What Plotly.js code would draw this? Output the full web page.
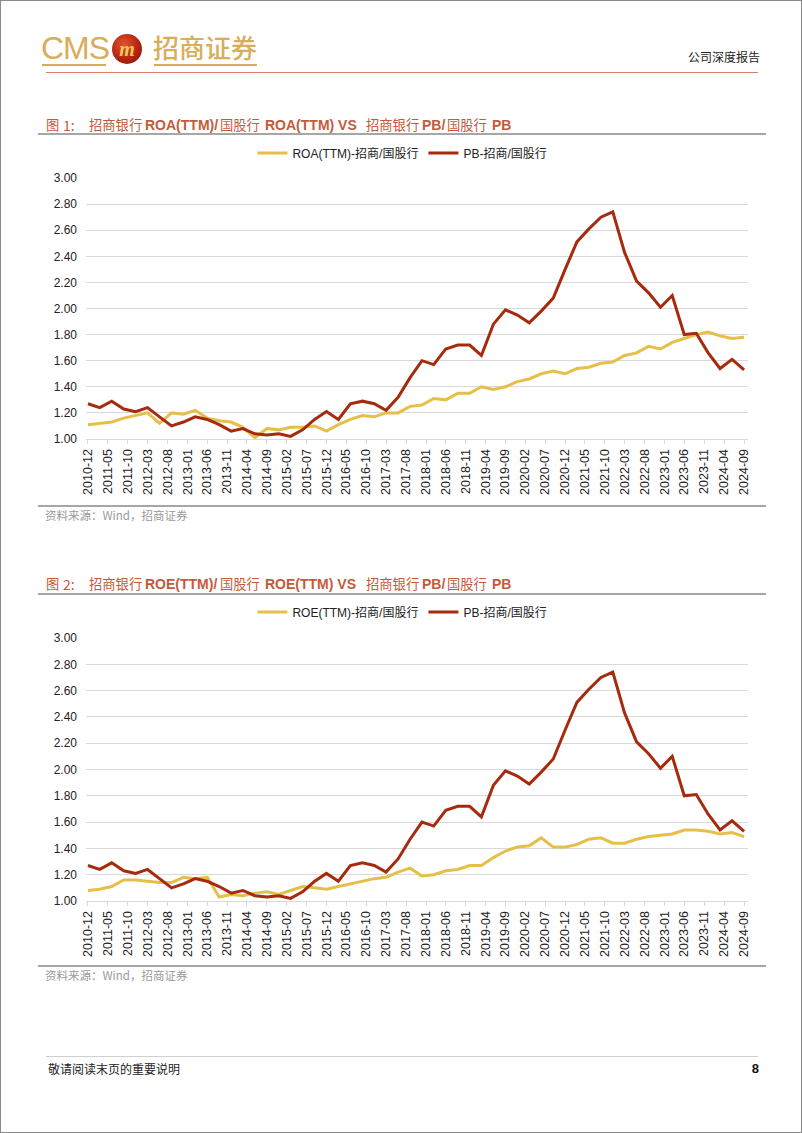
<!DOCTYPE html>
<html>
<head>
<meta charset="utf-8">
<script src="https://cdn.plot.ly/plotly-3.0.1.min.js"></script>
<style>
  html, body { margin:0; padding:0; background:#fff; }
  #page { position:relative; width:802px; height:1133px; border:1px solid #8a8a8a; box-sizing:border-box; overflow:hidden; background:#fff;
          font-family:"Liberation Sans", Arial, "Noto Sans CJK SC", sans-serif; }
  .abs { position:absolute; white-space:nowrap; }
  .cjk { font-family:"Noto Sans CJK SC", sans-serif; font-weight:400; }
  .lat { font-family:"Liberation Sans", Arial, sans-serif; font-weight:700; }
  .t { position:absolute; white-space:nowrap; color:#C55A3B; font-size:14px; line-height:16px; }
  .tc { font-size:13.3px; }
  .rule { position:absolute; }
  .src { color:#9a9a9a; font-size:11.5px; line-height:14px; }
  .chart { position:absolute; left:0; width:802px; }
</style>
</head>
<body>
<div id="page">
  <!-- header -->
  <div class="abs" style="left:40px;top:31px;font-family:'Liberation Sans Narrow','Liberation Sans',Arial,sans-serif;font-size:32px;line-height:32px;color:#D8AE5A;letter-spacing:-1px;">CMS</div>
  <div class="rule" style="left:41px;top:63px;width:64px;height:2px;background:#D8AE5A;"></div>
  <div class="abs" style="left:111px;top:33px;width:30px;height:30px;border-radius:50%;background:radial-gradient(circle at 40% 35%, #E0552F 0%, #B0200E 60%, #7A1208 100%);"></div>
  <div class="abs" style="left:114px;top:36px;width:24px;text-align:center;font-family:'Liberation Serif',serif;font-style:italic;font-weight:700;font-size:20px;line-height:24px;color:#F2C65A;">m</div>
  <div class="abs cjk" style="left:152px;top:31px;font-size:26px;line-height:30px;color:#D8AE5A;font-weight:500;">招商证券</div>
  <div class="rule" style="left:153px;top:63px;width:103px;height:2px;background:#D8AE5A;"></div>
  <div class="abs cjk" style="right:41px;top:47px;font-size:12px;line-height:18px;color:#222;">公司深度报告</div>
  <div class="rule" style="left:45px;top:71px;width:712px;height:1px;background:#D6806C;"></div>

  <!-- figure 1 title -->
  <span class="t cjk tc" style="left:45px;top:116px;">图</span>
  <span class="t cjk" style="left:62px;top:116px;">1:</span>
  <span class="t cjk tc" style="left:88px;top:116px;">招商银行</span>
  <span class="t lat" style="left:144px;top:116px;">ROA(TTM)/</span>
  <span class="t cjk tc" style="left:219px;top:116px;">国股行</span>
  <span class="t lat" style="left:264px;top:116px;">ROA(TTM) VS</span>
  <span class="t cjk tc" style="left:365px;top:116px;">招商银行</span>
  <span class="t lat" style="left:421px;top:116px;">PB/</span>
  <span class="t cjk tc" style="left:446px;top:116px;">国股行</span>
  <span class="t lat" style="left:491px;top:116px;">PB</span>
  <div class="rule" style="left:37px;top:132px;width:728px;height:2px;background:#A6A6A6;"></div>
  <div id="chart1" class="chart" style="top:110px;height:400px;"></div>
  <div class="rule" style="left:37px;top:504px;width:728px;height:2px;background:#A6A6A6;"></div>
  <div class="abs src cjk" style="left:44px;top:507px;">资料来源：Wind，招商证券</div>

  <!-- figure 2 title -->
  <span class="t cjk tc" style="left:45px;top:575px;">图</span>
  <span class="t cjk" style="left:62px;top:575px;">2:</span>
  <span class="t cjk tc" style="left:88px;top:575px;">招商银行</span>
  <span class="t lat" style="left:144px;top:575px;">ROE(TTM)/</span>
  <span class="t cjk tc" style="left:219px;top:575px;">国股行</span>
  <span class="t lat" style="left:264px;top:575px;">ROE(TTM) VS</span>
  <span class="t cjk tc" style="left:365px;top:575px;">招商银行</span>
  <span class="t lat" style="left:421px;top:575px;">PB/</span>
  <span class="t cjk tc" style="left:446px;top:575px;">国股行</span>
  <span class="t lat" style="left:491px;top:575px;">PB</span>
  <div class="rule" style="left:37px;top:592px;width:728px;height:2px;background:#A6A6A6;"></div>
  <div id="chart2" class="chart" style="top:570px;height:400px;"></div>
  <div class="rule" style="left:37px;top:964px;width:728px;height:2px;background:#A6A6A6;"></div>
  <div class="abs src cjk" style="left:44px;top:967px;">资料来源：Wind，招商证券</div>

  <!-- footer -->
  <div class="rule" style="left:45px;top:1055px;width:712px;height:1px;background:#CFCFCF;"></div>
  <div class="abs cjk" style="left:47px;top:1059px;font-size:12px;line-height:17px;color:#222;">敬请阅读末页的重要说明</div>
  <div class="abs" style="right:42px;top:1059px;font-size:13px;line-height:17px;font-weight:700;color:#111;">8</div>
</div>

<script>
// quarterly observation dates
const dates = ['2010-12','2011-03','2011-06','2011-09','2011-12','2012-03','2012-06','2012-09','2012-12',
  '2013-03','2013-06','2013-09','2013-12','2014-03','2014-06','2014-09','2014-12','2015-03','2015-06','2015-09','2015-12',
  '2016-03','2016-06','2016-09','2016-12','2017-03','2017-06','2017-09','2017-12','2018-03','2018-06','2018-09','2018-12',
  '2019-03','2019-06','2019-09','2019-12','2020-03','2020-06','2020-09','2020-12','2021-03','2021-06','2021-09','2021-12',
  '2022-03','2022-06','2022-09','2022-12','2023-03','2023-06','2023-09','2023-12','2024-03','2024-06','2024-09'];

// PB: 招商银行 PB / 国股行 PB
const pbRatio = [1.27,1.24,1.29,1.23,1.21,1.24,1.17,1.10,1.13,1.17,1.15,1.11,1.06,1.08,1.04,1.03,1.04,1.02,1.07,1.15,1.21,
  1.15,1.27,1.29,1.27,1.22,1.32,1.47,1.60,1.57,1.69,1.72,1.72,1.64,1.88,1.99,1.95,1.89,1.98,2.08,2.30,
  2.51,2.61,2.70,2.74,2.43,2.21,2.12,2.01,2.10,1.80,1.81,1.66,1.54,1.61,1.53];

// ROA(TTM): 招商 / 国股行
const roaRatio = [1.11,1.12,1.13,1.16,1.18,1.20,1.12,1.20,1.19,1.22,1.16,1.14,1.13,1.09,1.01,1.08,1.07,1.09,1.09,1.10,1.06,
  1.11,1.15,1.18,1.17,1.20,1.20,1.25,1.26,1.31,1.30,1.35,1.35,1.40,1.38,1.40,1.44,1.46,1.50,1.52,1.50,
  1.54,1.55,1.58,1.59,1.64,1.66,1.71,1.69,1.74,1.77,1.80,1.82,1.79,1.77,1.78];

// ROE(TTM): 招商 / 国股行
const roeRatio = [1.08,1.09,1.11,1.16,1.16,1.15,1.14,1.14,1.18,1.17,1.18,1.03,1.05,1.04,1.06,1.07,1.05,1.08,1.11,1.10,1.09,
  1.11,1.13,1.15,1.17,1.18,1.22,1.25,1.19,1.20,1.23,1.24,1.27,1.27,1.33,1.38,1.41,1.42,1.48,1.41,1.41,
  1.43,1.47,1.48,1.44,1.44,1.47,1.49,1.50,1.51,1.54,1.54,1.53,1.51,1.52,1.49];

const legendRoa = 'ROA(TTM)-招商/国股行';
const legendRoe = 'ROE(TTM)-招商/国股行';
const legendPb = 'PB-招商/国股行';

const YELLOW = '#E6BF48';
const RED = '#A62A0E';
const FONT = '"Liberation Sans", Arial, "Noto Sans CJK SC", sans-serif';

function makeLayout(topMargin, bottomMargin, legendY) {
  return {
    width: 802, height: 400,
    margin: {l: 85, r: 55, t: topMargin, b: bottomMargin},
    paper_bgcolor: 'rgba(0,0,0,0)', plot_bgcolor: 'rgba(0,0,0,0)',
    font: {family: FONT, size: 12, color: '#222'},
    showlegend: true,
    legend: {orientation: 'h', x: 0.478, xanchor: 'center', y: legendY, yanchor: 'middle',
             font: {family: FONT, size: 12, color: '#222'}, itemwidth: 30, tracegroupgap: 0,
             bgcolor: 'rgba(0,0,0,0)'},
    xaxis: {type: 'date', range: ['2010-11-16', '2024-10-01'],
            tick0: '2010-12-01', dtick: 'M5', tickformat: '%Y-%m', tickangle: -90,
            ticks: 'outside', ticklen: 4, tickcolor: '#D9D9D9', tickwidth: 1,
            showline: true, linecolor: '#D9D9D9', linewidth: 1, showgrid: false, zeroline: false,
            tickfont: {family: FONT, size: 12.5, color: '#222'}, fixedrange: true},
    yaxis: {range: [1, 3], dtick: 0.2, tick0: 1, tickformat: '.2f',
            showgrid: true, gridcolor: '#D9D9D9', gridwidth: 1, zeroline: false, showline: false,
            ticks: '', ticklabelstandoff: 8,
            tickfont: {family: FONT, size: 12, color: '#222'}, fixedrange: true},
    hovermode: false
  };
}

function line(name, y, color) {
  return {type: 'scatter', mode: 'lines', name: name, x: dates, y: y,
          line: {color: color, width: 3, shape: 'linear'}};
}

Plotly.newPlot('chart1', [line(legendRoa, roaRatio, YELLOW), line(legendPb, pbRatio, RED)],
  makeLayout(67, 72, 1.096), {displayModeBar: false, staticPlot: true});
Plotly.newPlot('chart2', [line(legendRoe, roeRatio, YELLOW), line(legendPb, pbRatio, RED)],
  makeLayout(67, 70, 1.099), {displayModeBar: false, staticPlot: true});
</script>
</body>
</html>
